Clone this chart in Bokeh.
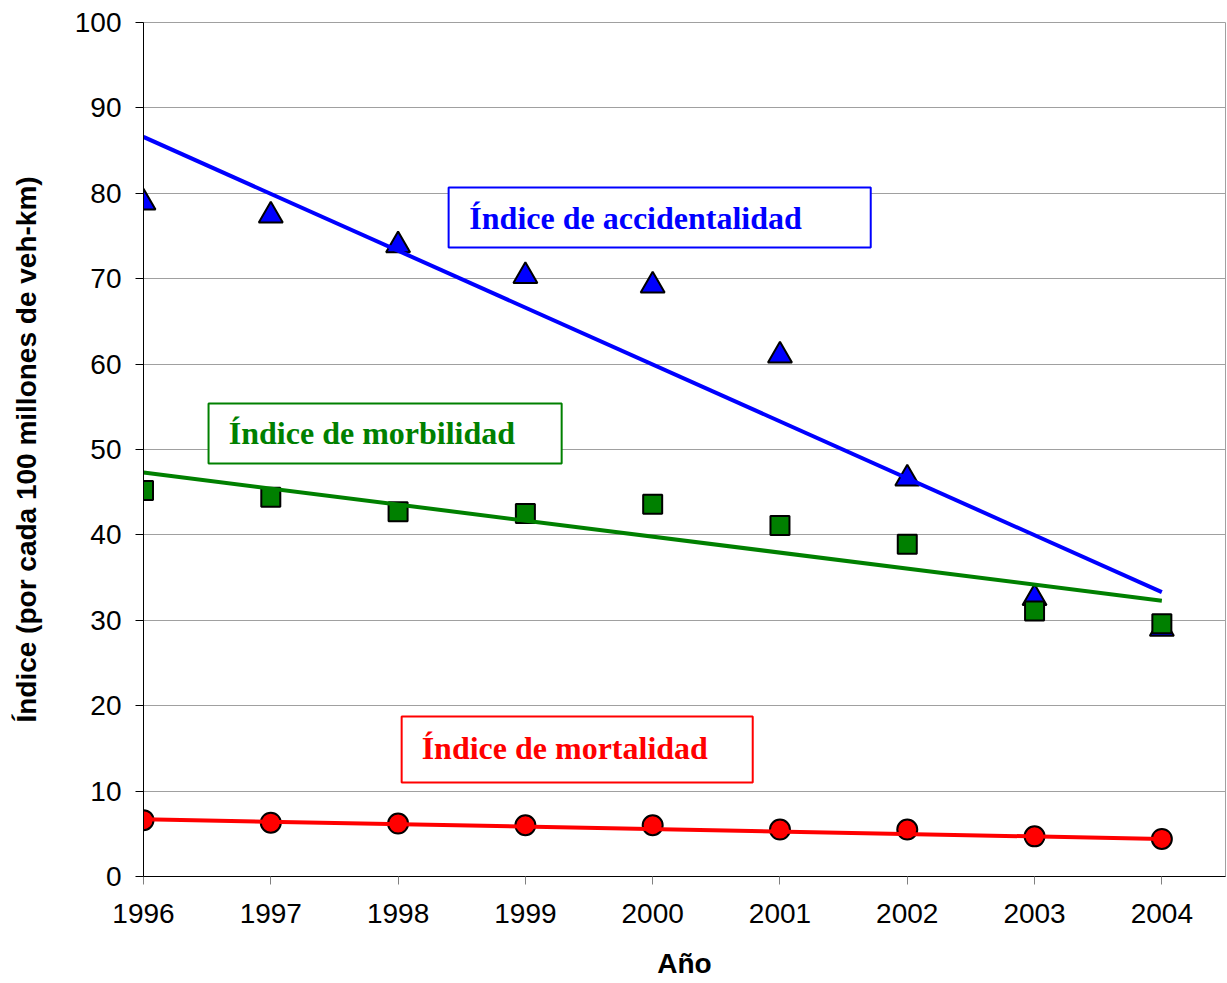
from bokeh.plotting import figure
from bokeh.models import FixedTicker, BoxAnnotation, Label, Range1d
from bokeh.embed import file_html
from bokeh.resources import INLINE

years = [1996, 1997, 1998, 1999, 2000, 2001, 2002, 2003, 2004]
accidentalidad = [78.9, 77.4, 73.9, 70.3, 69.2, 61.0, 46.6, 32.6, 29.0]
morbilidad = [45.2, 44.4, 42.7, 42.5, 43.6, 41.1, 38.9, 31.1, 29.6]
mortalidad = [6.6, 6.3, 6.2, 6.0, 6.0, 5.5, 5.5, 4.7, 4.4]

trend_years = [1996, 2004]
trend_accidentalidad = [86.6, 33.3]
trend_morbilidad = [47.3, 32.3]
trend_mortalidad = [6.7, 4.4]

y_ticks = [0, 10, 20, 30, 40, 50, 60, 70, 80, 90, 100]

BLUE = "#0000ff"
GREEN = "#008000"
RED = "#ff0000"

p = figure(width=1226, height=981, output_backend="svg", toolbar_location=None,
           x_range=Range1d(1996, 2004.5), y_range=Range1d(0, 100),
           min_border_left=143, min_border_right=1, min_border_top=22, min_border_bottom=94)

p.outline_line_color = "#a0a0a0"
p.outline_line_width = 1
p.xgrid.grid_line_color = None
p.ygrid.grid_line_color = "#a0a0a0"
p.ygrid.grid_line_width = 1

p.xaxis.ticker = FixedTicker(ticks=years)
p.yaxis.ticker = FixedTicker(ticks=y_ticks)
for ax in (p.xaxis, p.yaxis):
    ax.major_label_text_font = "Liberation Sans"
    ax.major_label_text_font_size = "28px"
    ax.major_label_text_color = "black"
    ax.axis_label_text_font = "Liberation Sans"
    ax.axis_label_text_font_size = "28px"
    ax.axis_label_text_font_style = "bold"
    ax.axis_label_text_color = "black"
    ax.axis_line_color = "black"
    ax.axis_line_width = 1
    ax.major_tick_in = 0
    ax.major_tick_out = 8
    ax.minor_tick_line_color = None
p.xaxis.major_tick_line_color = "#808080"
p.yaxis.major_tick_line_color = "black"
p.xaxis.axis_label = "Año"
p.yaxis.axis_label = "Índice (por cada 100 millones de veh-km)"
p.xaxis.major_label_standoff = 19
p.xaxis.axis_label_standoff = 22
p.yaxis.major_label_standoff = 14
p.yaxis.axis_label_standoff = 30

# label boxes
boxes = [
    (1998.397, 2001.713, 73.65, 80.68, BLUE, 1998.560, 77.1, "Índice de accidentalidad"),
    (1996.511, 1999.285, 48.36, 55.39, GREEN, 1996.670, 51.9, "Índice de morbilidad"),
    (1998.028, 2000.786, 11.0, 18.74, RED, 1998.185, 15.1, "Índice de mortalidad"),
]
for x0, x1, y0, y1, c, tx, ty, txt in boxes:
    p.add_layout(BoxAnnotation(left=x0, right=x1, bottom=y0, top=y1,
                               fill_color="white", fill_alpha=1.0,
                               line_color=c, line_alpha=1.0, line_width=2, level="underlay"))
    p.add_layout(Label(x=tx, y=ty, text=txt, text_font="Liberation Serif",
                       text_font_size="32px", text_font_style="bold",
                       text_color=c, text_baseline="alphabetic", level="underlay"))

# markers
p.scatter(years, accidentalidad, marker="triangle", size=24, fill_color=BLUE,
          line_color="black", line_width=2)
p.scatter(years, morbilidad, marker="square", size=19, fill_color=GREEN,
          line_color="black", line_width=2)
p.scatter(years, mortalidad, marker="circle", size=20, fill_color=RED,
          line_color="black", line_width=2)

# trend lines
p.line(trend_years, trend_accidentalidad, line_color=BLUE, line_width=4)
p.line(trend_years, trend_morbilidad, line_color=GREEN, line_width=4)
p.line(trend_years, trend_mortalidad, line_color=RED, line_width=4)

open("out.html", "w").write(file_html(p, INLINE))
